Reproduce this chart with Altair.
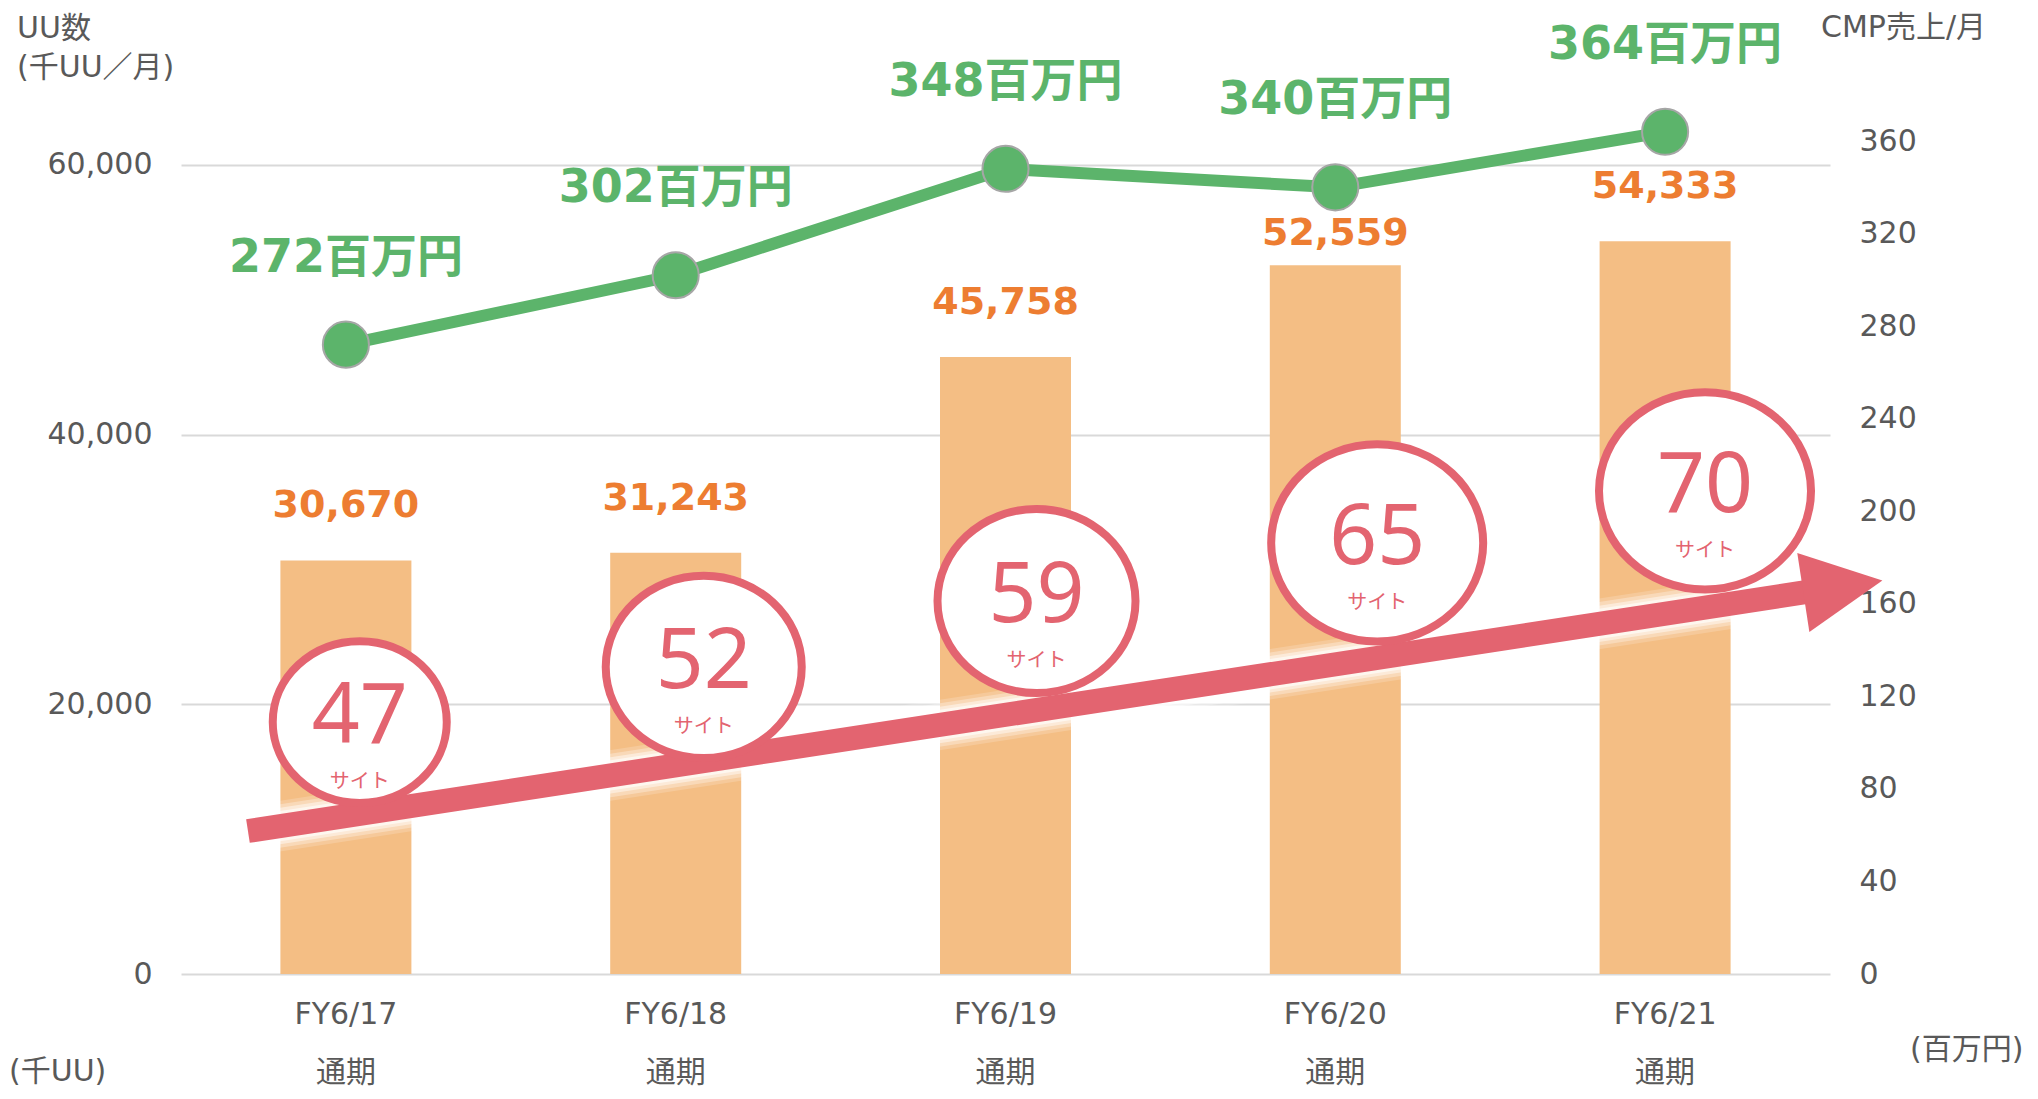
import altair as alt
import pandas as pd

# ---- data ----
categories = ["FY6/17", "FY6/18", "FY6/19", "FY6/20", "FY6/21"]
period_label = "通期"
uu_values = [30670, 31243, 45758, 52559, 54333]          # 千UU / 月 (bars, left axis)
cmp_values = [272, 302, 348, 340, 364]                    # 百万円 (line, right axis)
site_counts = [47, 52, 59, 65, 70]                        # サイト数 (circled badges)

left_ticks = [0, 20000, 40000, 60000]
right_ticks = [0, 40, 80, 120, 160, 200, 240, 280, 320, 360]

# ---- annotation layout (positions in band units / axis units) ----
bar_label_offset = [4000, 4000, 4000, 2300, 4000]       # left-axis units above bar top
badge_x = [0.542, 1.585, 2.594, 3.627, 4.621]
badge_y = [108.9, 132.7, 161.2, 186.3, 208.8]
badge_size = [30276, 38416, 39204, 44944, 44944]
arrow_x = [0.203, 5.039]
arrow_y = [61.8, 167.5]

FONT = "DejaVu Sans, Noto Sans CJK JP"
GREY = "#595959"
BAR = "#F4BE84"
ORANGE = "#ED7D31"
GREEN = "#5CB46B"
RED = "#E36470"

W, H = 1649, 944
LEFT_MAX = 70000
RIGHT_MAX = 408

df = pd.DataFrame({"period": categories, "uu": uu_values, "cmp": cmp_values})
df["uu_label"] = [f"{v:,}" for v in uu_values]
df["uu_pos"] = [v + o for v, o in zip(uu_values, bar_label_offset)]
df["cmp_label"] = [f"{v}百万円" for v in cmp_values]

badges = pd.DataFrame({"bx": badge_x, "by": badge_y, "bs": badge_size,
                       "n": [str(s) for s in site_counts]})
arrow = pd.DataFrame({"ax": arrow_x, "ay": arrow_y, "o": [0, 1]})

xband = alt.X("period:N", sort=categories, scale=alt.Scale(paddingInner=0, paddingOuter=0),
              axis=alt.Axis(title=None, labelExpr=f"[datum.label, '{period_label}']",
                            labelFontSize=30, labelColor=GREY, labelPadding=25,
                            labelLineHeight=58, ticks=False, domain=False, labelAngle=0))
lscale = alt.Scale(domain=[0, LEFT_MAX], nice=False)
yleft = alt.Y("uu:Q", scale=lscale,
              axis=alt.Axis(title=None, values=left_ticks,
                            labelExpr="format(datum.value, ',')", labelFontSize=30,
                            labelColor=GREY, labelPadding=29, ticks=False, domain=False,
                            grid=True, gridColor="#D9D9D9", gridWidth=2))

bars = alt.Chart(df).mark_bar(color=BAR, size=131).encode(x=xband, y=yleft)
bar_text = alt.Chart(df).mark_text(font=FONT, fontSize=38, fontWeight="bold", color=ORANGE,
                                   baseline="middle").encode(
    x=xband, y=alt.Y("uu_pos:Q", scale=lscale), text="uu_label:N")
left_layer = alt.layer(bars, bar_text)

xpoint = alt.X("period:N", sort=categories, scale=alt.Scale(type="point", padding=0.5), axis=None)
yright = alt.Y("cmp:Q", scale=alt.Scale(domain=[0, RIGHT_MAX], nice=False),
               axis=alt.Axis(title=None, orient="right", values=right_ticks, labelFontSize=30,
                             labelColor=GREY, labelPadding=29, ticks=False, domain=False, grid=False))
line = alt.Chart(df).mark_line(color=GREEN, strokeWidth=12).encode(x=xpoint, y=yright)
points = alt.Chart(df).mark_point(shape="circle", filled=True, fill=GREEN, stroke="#A6A6A6",
                                  strokeWidth=2, size=2124, opacity=1).encode(x=xpoint, y=yright)
line_text = alt.Chart(df).mark_text(font=FONT, fontSize=46, fontWeight="bold", color=GREEN,
                                    baseline="middle", dy=-87).encode(
    x=xpoint, y=yright, text="cmp_label:N")
right_layer = alt.layer(line, points, line_text)

xq = alt.Scale(domain=[0, 5], nice=False, zero=False)
yq = alt.Scale(domain=[0, RIGHT_MAX], nice=False, zero=False)
ax_enc = dict(x=alt.X("ax:Q", scale=xq, axis=None), y=alt.Y("ay:Q", scale=yq, axis=None),
              order="o:Q")
glows = [alt.Chart(arrow).mark_line(color="white", strokeWidth=w, opacity=op).encode(**ax_enc)
         for w, op in [(50, 0.18), (43, 0.3), (36, 0.45), (30, 0.6)]]
shaft = alt.Chart(arrow).mark_line(color=RED, strokeWidth=24).encode(**ax_enc)
head_df = pd.DataFrame({"hx": [arrow_x[1]], "hy": [arrow_y[1]]})
head = alt.Chart(head_df).mark_point(shape="M1,0L-1,-1L-1,1Z", filled=True, fill=RED, size=6400,
                                     angle=351.3, opacity=1, strokeWidth=0).encode(
    x=alt.X("hx:Q", scale=xq, axis=None), y=alt.Y("hy:Q", scale=yq, axis=None))

b_enc = dict(x=alt.X("bx:Q", scale=xq, axis=None), y=alt.Y("by:Q", scale=yq, axis=None))
rings = alt.Chart(badges).mark_point(
    shape="M-1,0A1,0.93,0,1,1,1,0A1,0.93,0,1,1,-1,0Z", filled=False, fill="white",
    fillOpacity=1, stroke=RED, strokeWidth=8, opacity=1).encode(
    size=alt.Size("bs:Q", scale=None, legend=None), **b_enc)
nums = alt.Chart(badges).mark_text(font="Noto Sans", fontSize=84, color=RED,
                                   baseline="middle", dy=-4).encode(text="n:N", **b_enc)
subs = alt.Chart(badges).mark_text(font="Noto Sans CJK JP", fontSize=20, color=RED,
                                   baseline="middle", dy=60).encode(text=alt.value("サイト"), **b_enc)
annot_layer = alt.layer(*glows, shaft, head, rings, nums, subs)

# axis titles / unit notes
def note(txt, x, y):
    return alt.Chart(pd.DataFrame({"t": [txt]})).mark_text(
        font=FONT, fontSize=30, color=GREY, align="left", baseline="middle").encode(
        text="t:N", x=alt.value(x), y=alt.value(y))

notes = alt.layer(
    note("UU数", -164, -1),
    note("(千UU／月)", -164, 38),
    note("CMP売上/月", 1640, -2),
    note("(千UU)", -172, 1042),
    note("(百万円)", 1729, 1020),
)

chart = alt.layer(left_layer, right_layer, annot_layer, notes).resolve_scale(
    x="independent", y="independent", size="independent"
).properties(
    width=W, height=H,
    padding={"left": 173, "top": 22, "right": 195, "bottom": 116},
    autosize=alt.AutoSizeParams(type="none"),
).configure_view(stroke=None).configure_axis(labelFont=FONT)

chart.save("out.html", embed_options={"renderer": "svg", "actions": False})
